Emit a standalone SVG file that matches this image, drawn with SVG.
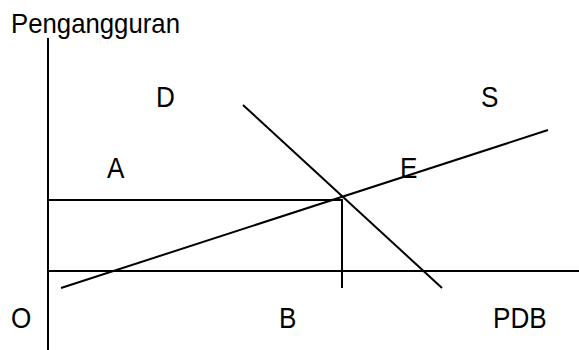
<svg xmlns="http://www.w3.org/2000/svg" width="579" height="350" viewBox="0 0 579 350">
<style>
.t{font-family:"Liberation Sans",Arial,sans-serif;font-size:30px;fill:#000}
.l{stroke:#000;stroke-width:2;fill:none}
</style>
<rect width="579" height="350" fill="#fff"/>
<g id="labels">
<text class="t" style="font-size:28px" transform="translate(11,33) scale(0.92,1)">Pengangguran</text>
<text class="t" transform="translate(156,107) scale(0.87,1)">D</text>
<text class="t" transform="translate(481,107) scale(0.87,1)">S</text>
<text class="t" transform="translate(107,178) scale(0.87,1)">A</text>
<text class="t" transform="translate(400,178) scale(0.87,1)">E</text>
<text class="t" transform="translate(11,328) scale(0.87,1)">O</text>
<text class="t" transform="translate(279,328) scale(0.87,1)">B</text>
<text class="t" transform="translate(493,328) scale(0.87,1)">PDB</text>
</g>
<g id="connectors">
<line class="l" x1="48" y1="38" x2="48" y2="350"/>
<line class="l" x1="48" y1="271" x2="579" y2="271"/>
<line class="l" x1="48" y1="200" x2="343" y2="200"/>
<line class="l" x1="342" y1="200" x2="342" y2="288"/>
<line class="l" x1="61" y1="288" x2="548" y2="130"/>
<line class="l" x1="243" y1="105" x2="442" y2="288"/>
</g>
</svg>
